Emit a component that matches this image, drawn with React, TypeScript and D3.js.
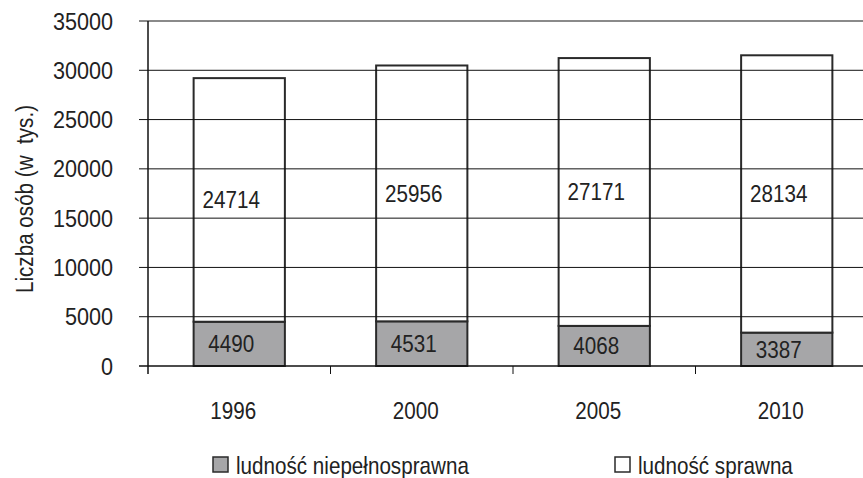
import React, { useRef, useEffect } from "react";
import * as d3 from "d3";

const years = ["1996", "2000", "2005", "2010"];
const disabled = [4490, 4531, 4068, 3387];
const ablebodied = [24714, 25956, 27171, 28134];
const yTicks = [0, 5000, 10000, 15000, 20000, 25000, 30000, 35000];
const seriesNames = ["ludność niepełnosprawna", "ludność sprawna"];

const FONT = "'Liberation Sans', Arial, sans-serif";
// the original uses a narrow face, so the regular one is squeezed
const SQ = 0.86;

function App() {
  const ref = useRef<SVGSVGElement>(null);

  useEffect(() => {
    document.body.style.margin = "0";
    const svg = d3.select(ref.current);
    svg.selectAll("*").remove();

    const width = 863;
    const height = 478;
    const left = 148;
    const top = 21;
    const bottom = 366;

    const x = d3
      .scaleBand()
      .domain(years)
      .range([left, 878])
      .paddingInner(0.5)
      .paddingOuter(0.25);
    const y = d3.scaleLinear().domain([0, 35000]).range([bottom, top]);

    svg.attr("width", width).attr("height", height).style("font-family", FONT);
    svg.append("rect").attr("width", width).attr("height", height).attr("fill", "#fff");

    // bars: gray part
    svg
      .selectAll("rect.dis")
      .data(disabled)
      .enter()
      .append("rect")
      .attr("class", "dis")
      .attr("x", (d, i) => x(years[i])!)
      .attr("y", (d) => y(d))
      .attr("width", x.bandwidth())
      .attr("height", (d) => y(0) - y(d))
      .attr("fill", "#a6a6a8")
      .attr("stroke", "#2a2a2a")
      .attr("stroke-width", 2);

    // bars: white part
    svg
      .selectAll("rect.abl")
      .data(ablebodied)
      .enter()
      .append("rect")
      .attr("class", "abl")
      .attr("x", (d, i) => x(years[i])!)
      .attr("y", (d, i) => y(d + disabled[i]))
      .attr("width", x.bandwidth())
      .attr("height", (d) => y(0) - y(d))
      .attr("fill", "#fff")
      .attr("stroke", "#2a2a2a")
      .attr("stroke-width", 2);

    // gridlines + y ticks (drawn over the white bars)
    svg
      .selectAll("line.grid")
      .data(yTicks.filter((t) => t > 0))
      .enter()
      .append("line")
      .attr("x1", left - 9)
      .attr("x2", width)
      .attr("y1", (d) => y(d))
      .attr("y2", (d) => y(d))
      .attr("stroke", (d) => (d === 35000 ? "#8a8a8a" : "#111"))
      .attr("stroke-width", (d) => (d === 35000 ? 2 : 1));

    // axes
    svg.append("line").attr("x1", left).attr("x2", left).attr("y1", top).attr("y2", bottom + 8).attr("stroke", "#111").attr("stroke-width", 1.5);
    svg.append("line").attr("x1", left - 9).attr("x2", width).attr("y1", bottom).attr("y2", bottom).attr("stroke", "#111").attr("stroke-width", 1.5);

    // x ticks at band boundaries
    svg
      .selectAll("line.xt")
      .data(years.slice(1))
      .enter()
      .append("line")
      .attr("x1", (d) => x(d)! - (x.step() - x.bandwidth()) / 2)
      .attr("x2", (d) => x(d)! - (x.step() - x.bandwidth()) / 2)
      .attr("y1", bottom)
      .attr("y2", bottom + 8)
      .attr("stroke", "#111");

    // y tick labels
    svg
      .selectAll("text.yl")
      .data(yTicks)
      .enter()
      .append("text")
      .text((d) => d)
      .attr("transform", (d) => `translate(113,${y(d) + 8.5}) scale(0.9,1)`)
      .attr("text-anchor", "end")
      .attr("font-size", 24)
      .attr("fill", "#222");

    // x labels
    svg
      .selectAll("text.xl")
      .data(years)
      .enter()
      .append("text")
      .text((d) => d)
      .attr("transform", (d) => `translate(${x(d)! + x.bandwidth() / 2 - 6},419) scale(${SQ},1)`)
      .attr("text-anchor", "middle")
      .attr("font-size", 24)
      .attr("fill", "#222");

    // value labels
    svg
      .selectAll("text.dl")
      .data(disabled)
      .enter()
      .append("text")
      .text((d) => d)
      .attr("transform", (d, i) => `translate(${x(years[i])! + x.bandwidth() / 2 - 8},${y(d / 2) + 8.5}) scale(${SQ},1)`)
      .attr("text-anchor", "middle")
      .attr("font-size", 24)
      .attr("fill", "#222");

    svg
      .selectAll("text.al")
      .data(ablebodied)
      .enter()
      .append("text")
      .text((d) => d)
      .attr("transform", (d, i) => `translate(${x(years[i])! + x.bandwidth() / 2 - 8},${y(disabled[i] + d / 2) + 8.5}) scale(${SQ},1)`)
      .attr("text-anchor", "middle")
      .attr("font-size", 24)
      .attr("fill", "#222");

    // y title
    svg
      .append("text")
      .text("Liczba osób (w\u00a0 tys.)")
      .attr("transform", "translate(33,199) rotate(-90) scale(0.86,1)")
      .attr("text-anchor", "middle")
      .attr("font-size", 24)
      .attr("fill", "#222");

    // legend
    const legendX = [213, 615];
    const legendFill = ["#a6a6a8", "#fff"];
    const lg = svg
      .selectAll("g.lg")
      .data(seriesNames)
      .enter()
      .append("g")
      .attr("transform", (d, i) => `translate(${legendX[i]},457)`);
    lg.append("rect")
      .attr("width", 15)
      .attr("height", 15)
      .attr("fill", (d, i) => legendFill[i])
      .attr("stroke", "#2a2a2a")
      .attr("stroke-width", 1.5);
    lg.append("text")
      .text((d) => d)
      .attr("transform", "translate(23,16.5) scale(0.86,1)")
      .attr("font-size", 24)
      .attr("fill", "#222");
  }, []);

  return <svg ref={ref} style={{ display: "block" }}></svg>;
}

export default App;
